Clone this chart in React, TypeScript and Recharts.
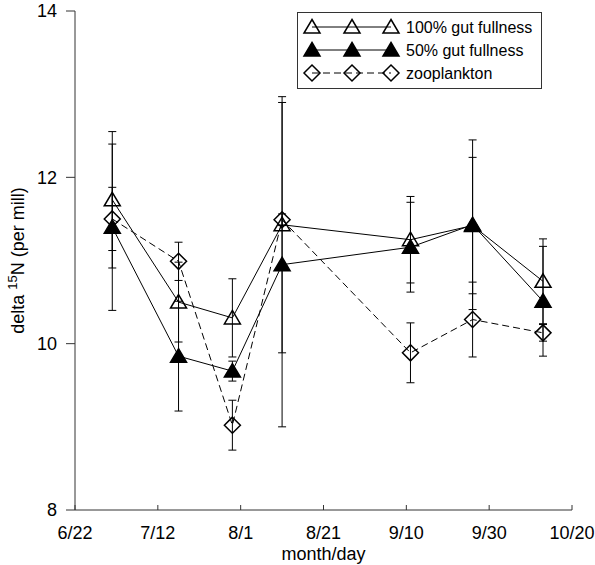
import { ComposedChart, ErrorBar, Label, Legend, Line, XAxis, YAxis } from 'recharts'

// sampling dates, as days after 6/22
const sampleDays = [9, 25, 38, 50, 81, 96, 113]

const gutFull = [11.73, 10.5, 10.31, 11.43, 11.25, 11.42, 10.75]
const gutFullErr = [0.82, 0.48, 0.47, 1.54, 0.52, 0.82, 0.51]

const gutHalf = [11.4, 9.85, 9.67, 10.95, 11.16, 11.43, 10.51]
const gutHalfErr = [1.0, 0.66, 0.12, 1.95, 0.54, 1.02, 0.66]

const zooplankton = [11.5, 10.99, 9.02, 11.49, 9.89, 10.29, 10.13]
const zooplanktonErr = [0.38, 0.23, 0.3, 0.07, 0.36, 0.45, 0.1]

const xTicks = [0, 20, 40, 60, 80, 100, 120]
const xTickLabels = ['6/22', '7/12', '8/1', '8/21', '9/10', '9/30', '10/20']
const yTicks = [8, 10, 12, 14]
const yMinorTicks = [9, 11, 13]

const data = sampleDays.map((day, i) => ({
  day,
  full: gutFull[i],
  fullErr: gutFullErr[i],
  half: gutHalf[i],
  halfErr: gutHalfErr[i],
  zoo: zooplankton[i],
  zooErr: zooplanktonErr[i],
}))

const FONT = '"Liberation Sans", Arial, sans-serif'
const INK = '#000'

type Marker = 'open' | 'filled' | 'diamond'

function markerPath(kind: Marker, cx: number, cy: number) {
  if (kind === 'diamond') {
    return `M${cx},${cy - 8} L${cx + 8},${cy} L${cx},${cy + 8} L${cx - 8},${cy} Z`
  }
  return `M${cx},${cy - 7.5} L${cx + 8},${cy + 6} L${cx - 8},${cy + 6} Z`
}

function MarkerShape({ kind, cx, cy }: { kind: Marker; cx?: number; cy?: number }) {
  if (cx == null || cy == null) return null
  return (
    <path
      d={markerPath(kind, cx, cy)}
      fill={kind === 'filled' ? INK : 'none'}
      stroke={INK}
      strokeWidth={1.5}
    />
  )
}

const dotFor = (kind: Marker) => (p: any) => (
  <MarkerShape key={`${kind}-${p.index}`} kind={kind} cx={p.cx} cy={p.cy} />
)

const legendRows: { label: string; kind: Marker; dashed: boolean }[] = [
  { label: '100% gut fullness', kind: 'open', dashed: false },
  { label: '50% gut fullness', kind: 'filled', dashed: false },
  { label: 'zooplankton', kind: 'diamond', dashed: true },
]

function LegendBox() {
  const sx = [15, 55, 94]
  return (
    <svg width={245} height={77} style={{ display: 'block' }}>
      <rect x={0.5} y={0.5} width={244} height={76} fill="#fff" stroke="#333" />
      {legendRows.map((row, i) => {
        const y = 15 + i * 23
        return (
          <g key={row.label}>
            <line
              x1={sx[0]}
              x2={sx[2]}
              y1={y}
              y2={y}
              stroke={INK}
              strokeDasharray={row.dashed ? '7 4' : undefined}
            />
            {sx.map((x) => (
              <MarkerShape key={x} kind={row.kind} cx={x} cy={y} />
            ))}
            <text x={109} y={y + 6} fontSize={16} fontFamily={FONT} fill={INK}>
              {row.label}
            </text>
          </g>
        )
      })}
    </svg>
  )
}

function YTitle({ viewBox }: any) {
  const x = viewBox.x + 24
  const y = viewBox.y + viewBox.height / 2
  return (
    <text
      x={x}
      y={y}
      transform={`rotate(-90, ${x}, ${y})`}
      textAnchor="middle"
      fontSize={18}
      fontFamily={FONT}
      fill={INK}
    >
      delta <tspan fontSize={13} dy={-7}>15</tspan>
      <tspan dy={7}>N (per mill)</tspan>
    </text>
  )
}

function XTitle({ viewBox }: any) {
  return (
    <text
      x={viewBox.x + viewBox.width / 2}
      y={viewBox.y + 50}
      textAnchor="middle"
      fontSize={18}
      fontFamily={FONT}
      fill={INK}
    >
      month/day
    </text>
  )
}

export default function App() {
  return (
    <div style={{ position: 'absolute', left: 0, top: 0, background: '#fff' }}>
      <ComposedChart
        width={595}
        height={565}
        data={data}
        margin={{ top: 11, right: 23, bottom: 25, left: 0 }}
        style={{ fontFamily: FONT }}
      >
        <XAxis
          dataKey="day"
          type="number"
          domain={[0, 120]}
          ticks={xTicks}
          tickFormatter={(v) => xTickLabels[xTicks.indexOf(v)]}
          stroke="#333"
          tickSize={-5}
          tickMargin={21}
          tick={{ fill: INK, fontSize: 18 }}
          height={30}
        >
          <Label content={XTitle} />
        </XAxis>
        <YAxis
          type="number"
          domain={[8, 14]}
          ticks={yTicks}
          stroke="#333"
          tickSize={9}
          tickMargin={9}
          width={75}
          tick={{ fill: INK, fontSize: 18 }}
        >
          <Label content={YTitle} />
        </YAxis>
        <YAxis
          yAxisId="minor"
          type="number"
          domain={[8, 14]}
          allowDataOverflow
          ticks={yMinorTicks}
          mirror
          width={0}
          axisLine={false}
          tick={false}
          tickSize={5}
          stroke="#333"
        />
        <Legend
          layout="horizontal"
          verticalAlign="middle"
          align="center"
          wrapperStyle={{ left: 297, top: 12, width: 245, height: 77 }}
          content={() => <LegendBox />}
        />
        <Line
          dataKey="zoo"
          name="zooplankton"
          stroke={INK}
          strokeWidth={1}
          strokeDasharray="7 4"
          dot={dotFor('diamond')}
          activeDot={false}
          isAnimationActive={false}
        >
          <ErrorBar dataKey="zooErr" direction="y" width={4} stroke={INK} strokeWidth={1} />
        </Line>
        <Line
          dataKey="full"
          name="100% gut fullness"
          stroke={INK}
          strokeWidth={1}
          dot={dotFor('open')}
          activeDot={false}
          isAnimationActive={false}
        >
          <ErrorBar dataKey="fullErr" direction="y" width={4} stroke={INK} strokeWidth={1} />
        </Line>
        <Line
          dataKey="half"
          name="50% gut fullness"
          stroke={INK}
          strokeWidth={1}
          dot={dotFor('filled')}
          activeDot={false}
          isAnimationActive={false}
        >
          <ErrorBar dataKey="halfErr" direction="y" width={4} stroke={INK} strokeWidth={1} />
        </Line>
      </ComposedChart>
    </div>
  )
}
